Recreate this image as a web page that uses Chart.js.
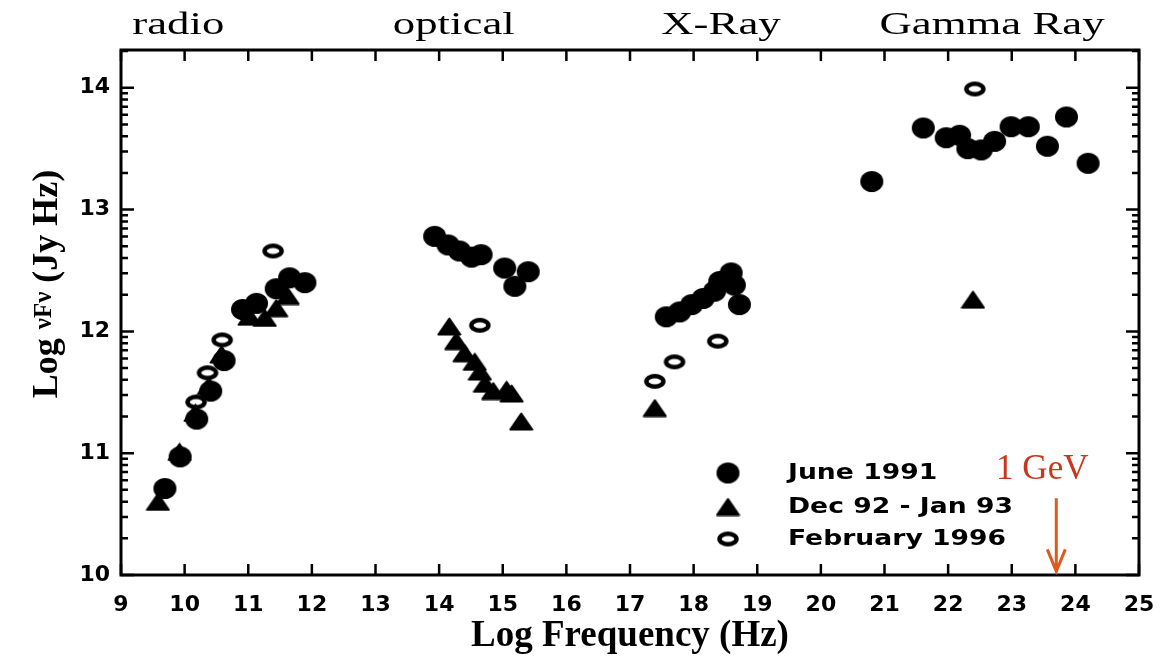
<!DOCTYPE html>
<html>
<head>
<meta charset="utf-8">
<script src="https://cdn.jsdelivr.net/npm/chart.js@4.4.1/dist/chart.umd.min.js"></script>
<style>
  html, body { margin: 0; padding: 0; background: #fff; }
  #wrap { width: 1161px; height: 660px; }
</style>
</head>
<body>
<div id="wrap"><canvas id="sed" width="1161" height="660"></canvas></div>
<script>
// June 1991 - filled circles
const juneX = [9.69, 9.93, 10.19, 10.41, 10.62, 10.91, 11.13, 11.44, 11.65, 11.89,
               13.93, 14.14, 14.32, 14.51, 14.66, 15.03, 15.40, 15.19,
               17.57, 17.78, 17.97, 18.15, 18.33, 18.41, 18.59, 18.64, 18.72,
               20.80, 21.61, 21.97, 22.18, 22.31, 22.52, 22.73, 22.99, 23.26, 23.56, 23.86, 24.20];
const juneY = [10.71, 10.97, 11.28, 11.51, 11.76, 12.18, 12.23, 12.35, 12.44, 12.40,
               12.78, 12.71, 12.66, 12.61, 12.63, 12.52, 12.49, 12.37,
               12.12, 12.16, 12.22, 12.27, 12.33, 12.41, 12.48, 12.38, 12.22,
               13.23, 13.67, 13.59, 13.61, 13.50, 13.49, 13.56, 13.68, 13.68, 13.52, 13.76, 13.38];

// Dec 92 - Jan 93 - triangles
const decX = [9.58, 9.92, 10.17, 10.38, 10.58, 11.02, 11.26, 11.44, 11.62,
              14.16, 14.27, 14.40, 14.56, 14.64, 14.72, 14.85, 15.06, 15.14, 15.29,
              17.39, 22.39];
const decY = [10.60, 11.01, 11.33, 11.55, 11.81, 12.12, 12.11, 12.19, 12.29,
              12.04, 11.92, 11.82, 11.75, 11.67, 11.57, 11.51, 11.52, 11.49, 11.26,
              11.37, 12.26];

// February 1996 - open circles
const febX = [10.18, 10.36, 10.59, 11.39, 14.64, 17.39, 17.70, 18.38, 22.42];
const febY = [11.42, 11.66, 11.93, 12.66, 12.05, 11.59, 11.75, 11.92, 13.99];

const seriesNames = ['June 1991', 'Dec 92 - Jan 93', 'February 1996'];
const xTicks = [9, 10, 11, 12, 13, 14, 15, 16, 17, 18, 19, 20, 21, 22, 23, 24, 25];
const yTicks = [10, 11, 12, 13, 14];
const bandNames = ['radio', 'optical', 'X-Ray', 'Gamma Ray'];
const bandCenters = [9.90, 14.23, 18.43, 22.69];
const gevX = 23.7;

function pts(xs, ys) {
    return xs.map((x, i) => ({x: x, y: ys[i]}));
}

// marker images (the scan is a bit squashed, so shapes are wider than tall)
function makeMarker(w, h, draw) {
    const c = document.createElement('canvas');
    c.width = w; c.height = h;
    draw(c.getContext('2d'));
    return c;
}
const dotImg = makeMarker(25, 23, g => {
    g.fillStyle = '#000';
    g.beginPath(); g.ellipse(12.5, 11.5, 11.5, 10.5, 0, 0, Math.PI * 2); g.fill();
});
const triImg = makeMarker(25, 19, g => {
    g.fillStyle = '#000'; g.strokeStyle = '#000'; g.lineWidth = 2; g.lineJoin = 'round';
    g.beginPath(); g.moveTo(12.5, 1.5); g.lineTo(23.5, 17.5); g.lineTo(1.5, 17.5); g.closePath();
    g.fill(); g.stroke();
});
const ringImg = makeMarker(24, 17, g => {
    g.fillStyle = '#fff'; g.strokeStyle = '#000'; g.lineWidth = 4.5;
    g.beginPath(); g.ellipse(12, 8.5, 8.5, 5.2, 0, 0, Math.PI * 2); g.fill(); g.stroke();
});
const markers = [dotImg, triImg, ringImg];

function stretched(ctx, text, x, y, sx, align) {
    ctx.save();
    ctx.translate(x, y);
    ctx.scale(sx, 1);
    ctx.textAlign = align;
    ctx.fillText(text, 0, 0);
    ctx.restore();
}

const framePlugin = {
    id: 'frame',
    afterDraw(chart) {
        const ctx = chart.ctx;
        const a = chart.chartArea;
        const xs = chart.scales.x, ys = chart.scales.y;
        ctx.save();
        ctx.strokeStyle = '#000';
        ctx.fillStyle = '#000';

        // box
        ctx.lineWidth = 3;
        ctx.strokeRect(a.left, a.top, a.right - a.left, a.bottom - a.top);

        // inward ticks
        ctx.lineWidth = 2.5;
        ctx.beginPath();
        xTicks.forEach(v => {
            const px = xs.getPixelForValue(v);
            ctx.moveTo(px, a.bottom); ctx.lineTo(px, a.bottom - 11);
            ctx.moveTo(px, a.top); ctx.lineTo(px, a.top + 11);
        });
        for (let n = yTicks[0]; n <= ys.max; n++) {
            for (let k = 1; k < 10; k++) {
                const v = n + Math.log10(k);
                if (v > ys.max) break;
                const py = ys.getPixelForValue(v);
                const len = k === 1 ? 13 : 7;
                ctx.moveTo(a.left, py); ctx.lineTo(a.left + len, py);
                ctx.moveTo(a.right, py); ctx.lineTo(a.right - len, py);
            }
        }
        ctx.stroke();

        // band names above the frame
        ctx.font = '32px "Liberation Serif"';
        ctx.textBaseline = 'alphabetic';
        bandNames.forEach((t, i) => {
            stretched(ctx, t, xs.getPixelForValue(bandCenters[i]), 34, 1.4, 'center');
        });

        // y axis title
        ctx.save();
        ctx.translate(48, 284);
        ctx.rotate(-Math.PI / 2);
        ctx.textBaseline = 'middle';
        ctx.textAlign = 'left';
        const big = 'bold 36px "Liberation Serif"', small = 'bold 25px "Liberation Serif"';
        const parts = [['Log ', big], ['\u03bdF\u03bd', small], [' (Jy Hz)', big]];
        let total = 0;
        parts.forEach(p => { ctx.font = p[1]; total += ctx.measureText(p[0]).width; });
        let cx = -total / 2;
        parts.forEach(p => {
            ctx.font = p[1];
            ctx.fillText(p[0], cx, p[1] === small ? -3 : 0);
            cx += ctx.measureText(p[0]).width;
        });
        ctx.restore();

        // legend
        const rows = [473, 507, 539];
        ctx.font = 'bold 22px "DejaVu Sans"';
        ctx.textBaseline = 'middle';
        const sx = 225 / ctx.measureText(seriesNames[1]).width;
        chart.data.datasets.forEach((ds, i) => {
            const img = markers[i];
            ctx.drawImage(img, 728 - img.width / 2, rows[i] - img.height / 2);
            stretched(ctx, ds.label, 788, rows[i], sx, 'left');
        });

        // 1 GeV marker
        const gx = xs.getPixelForValue(gevX);
        ctx.fillStyle = '#c8361c';
        ctx.font = '35px "Liberation Serif"';
        ctx.textBaseline = 'alphabetic';
        ctx.textAlign = 'center';
        ctx.fillText('1 GeV', gx - 14, ys.getPixelForValue(10.79));
        ctx.strokeStyle = '#dc5a1e';
        ctx.lineWidth = 3;
        const y0 = ys.getPixelForValue(10.63), y1 = ys.getPixelForValue(10.03);
        ctx.beginPath();
        ctx.moveTo(gx, y0); ctx.lineTo(gx, y1);
        ctx.moveTo(gx - 9, y1 - 22); ctx.lineTo(gx, y1); ctx.lineTo(gx + 9, y1 - 22);
        ctx.stroke();

        ctx.restore();
    }
};

const tickFont = {family: 'DejaVu Sans', weight: 'bold', size: 22};

new Chart(document.getElementById('sed'), {
    type: 'scatter',
    data: {
        datasets: [
            {label: seriesNames[0], data: pts(juneX, juneY), pointStyle: dotImg, pointRadius: 11},
            {label: seriesNames[1], data: pts(decX, decY), pointStyle: triImg, pointRadius: 11},
            {label: seriesNames[2], data: pts(febX, febY), pointStyle: ringImg, pointRadius: 11}
        ]
    },
    options: {
        responsive: false,
        animation: false,
        events: [],
        layout: {padding: {top: 50, right: 22, left: 0, bottom: 0}},
        plugins: {legend: {display: false}, tooltip: {enabled: false}},
        scales: {
            x: {
                type: 'linear', min: 9, max: 25,
                afterBuildTicks: s => { s.ticks = xTicks.map(v => ({value: v})); },
                afterFit: s => { s.height = 85; s.paddingLeft = 0; s.paddingRight = 0; },
                grid: {display: false, drawTicks: false},
                border: {display: false},
                ticks: {font: tickFont, color: '#000', padding: 17, maxRotation: 0, autoSkip: false},
                title: {
                    display: true, text: 'Log Frequency (Hz)', color: '#000',
                    font: {family: 'Liberation Serif', weight: 'bold', size: 37},
                    padding: {top: 0, bottom: 1}
                }
            },
            y: {
                type: 'linear', min: 10, max: 14.31,
                afterBuildTicks: s => { s.ticks = yTicks.map(v => ({value: v})); },
                afterFit: s => { s.width = 121; s.paddingTop = 0; s.paddingBottom = 0; },
                grid: {display: false, drawTicks: false},
                border: {display: false},
                ticks: {font: {family: 'DejaVu Sans', weight: 'bold', size: 22}, color: '#000', padding: 11}
            }
        }
    },
    plugins: [framePlugin]
});
</script>
</body>
</html>
